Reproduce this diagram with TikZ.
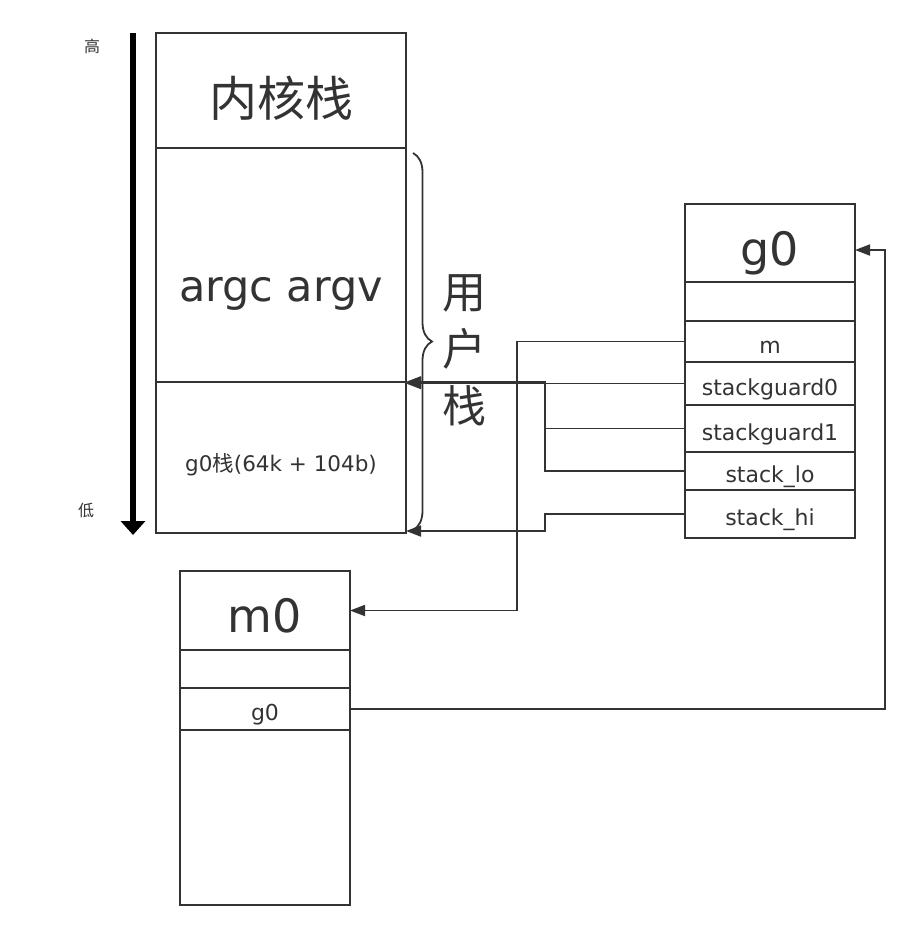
\documentclass[tikz,border=0pt]{standalone}
\usepackage{fontspec}
\setmainfont{DejaVu Sans}
\newfontfamily\cjk{Noto Sans CJK SC}
\usetikzlibrary{positioning,arrows.meta,decorations.pathreplacing,calc}
\definecolor{ink}{HTML}{333333}

\begin{document}
\begin{tikzpicture}[x=1pt,y=-1pt,node distance=0pt]
                % Define styles
                \tikzstyle{cell} = [rectangle, draw=ink, line width=2pt, outer sep=0pt, inner sep=0pt, text=ink, minimum width=170]
                \tikzstyle{stackbox} = [rectangle, draw=ink, line width=2pt, outer sep=0pt, inner sep=0pt, minimum width=250]
                \tikzstyle{headtxt} = [font=\fontsize{46}{50}\selectfont, text=ink, text height=44pt, text depth=0pt]
                \tikzstyle{fieldtxt} = [font=\fontsize{22}{24}\selectfont, text=ink, text height=23pt, text depth=0pt]
                \tikzstyle{smalltxt} = [font=\fontsize{16}{18}\selectfont\cjk, text=ink]
                \tikzstyle{line} = [draw=ink, line width=1.8pt, -{Triangle[length=15pt,width=11pt]}]

                \useasboundingbox (0,0) rectangle (910,930);

                % Stack
                \node [stackbox, minimum height=115] (kstack) at (281,90.5) {};
                \node [stackbox, minimum height=234, below=of kstack] (args) {};
                \node [stackbox, minimum height=151, below=of args] (g0stk) {};

                \node [anchor=base, font=\cjk\fontsize{48}{52}\selectfont, text=ink] (kstext) at (kstack.center |- 0,116) {内核栈};
                \node [anchor=base, font=\fontsize{43}{46}\selectfont, text=ink] (argtext) at ($(args.center)+(0,36)$) {argc argv};
                \node [anchor=base, font=\fontsize{21.5}{24}\selectfont, text=ink] (g0stext) at (g0stk.center |- 0,471) {g0{\cjk 栈}(64k + 104b)};

                % High / low axis
                \coordinate (axtop) at (133,33);
                \coordinate (axbot) at (133,535);
                \draw [black, line width=6pt, -{Triangle[length=14pt,width=24pt]}] (axtop) -- (axbot);
                \node [smalltxt] (high) at (92,46) {高};
                \node [smalltxt] (low) at (86,510) {低};

                % User stack brace
                \coordinate (brtop) at (413,153);
                \coordinate (brbot) at (413,530);
                \draw [ink, line width=1.8pt, decorate, decoration={brace, amplitude=19pt}] (brtop) -- (brbot);
                \node [align=center, font=\cjk\fontsize{44}{57}\selectfont, text=ink] (ustack) at (464,350) {用\\户\\栈};

                % g0
                \node [cell, headtxt, minimum height=78] (g0head) at (770,243) {g0};
                \node [cell, minimum height=39, below=of g0head] (g0blank) {};
                \node [cell, fieldtxt, minimum height=41, below=of g0blank] (gm) {m};
                \node [cell, fieldtxt, minimum height=43, below=of gm] (gsg0) {stackguard0};
                \node [cell, fieldtxt, minimum height=47, below=of gsg0] (gsg1) {stackguard1};
                \node [cell, fieldtxt, minimum height=38, below=of gsg1] (glo) {stack\_lo};
                \node [cell, fieldtxt, minimum height=48, below=of glo] (ghi) {stack\_hi};

                % m0
                \node [cell, headtxt, minimum height=79] (m0head) at (265,610.5) {m0};
                \node [cell, minimum height=38, below=of m0head] (m0blank) {};
                \node [cell, fieldtxt, minimum height=42, below=of m0blank] (mg0) {g0};
                \node [cell, minimum height=175, below=of mg0] (m0rest) {};

                % Lines
                \path [line] (gm.west) -- ++(-168,0) |- (m0head.east);
                \path [line] (gsg0.west) -- (gsg0.west -| g0stk.east);
                \path [line] (gsg1.west) -- ++(-140,0) |- (g0stk.north east);
                \path [line] (glo.west) -- ++(-140,0) |- (g0stk.north east);
                \path [line] (ghi.west) -- ++(-140,0) |- ($(g0stk.south east)+(0,-2)$);
                \path [line] (mg0.east) -- ++(535,0) |- ($(g0head.east)+(0,7)$);
            \end{tikzpicture}
\end{document}
